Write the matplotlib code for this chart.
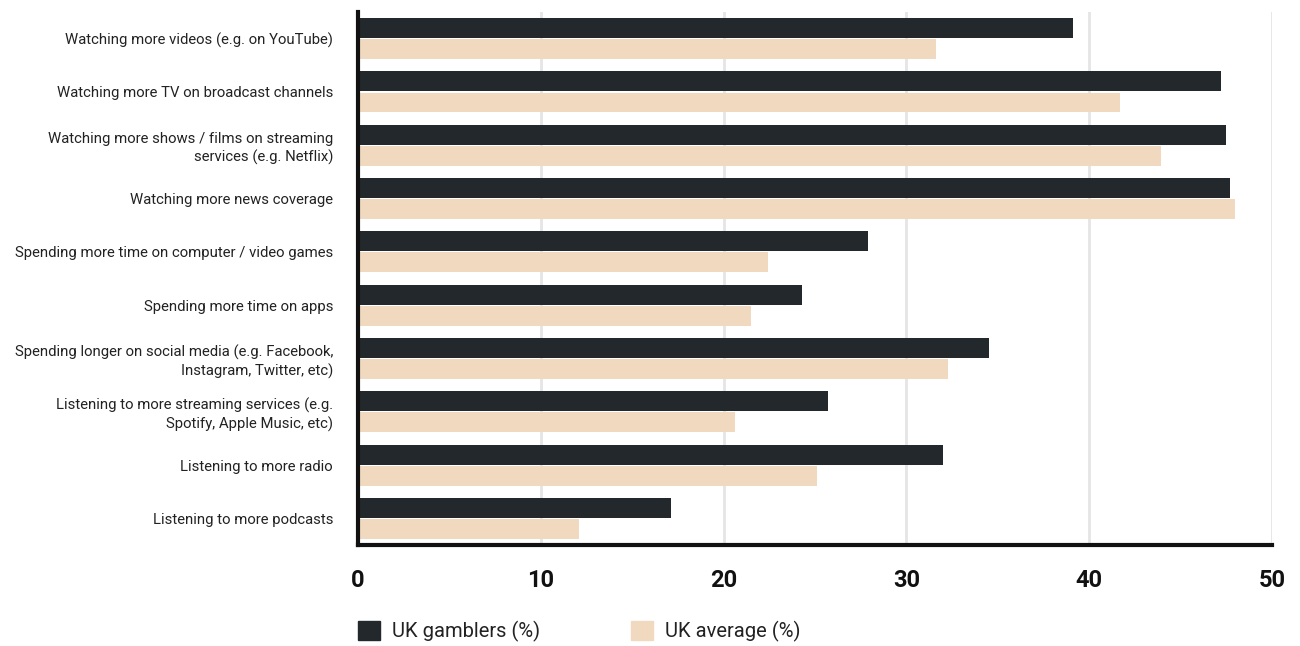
import matplotlib
matplotlib.use('Agg')
from matplotlib import pyplot as plt
from matplotlib.patches import Patch
import numpy as np

# data
categories = [
    'Watching more videos (e.g. on YouTube)',
    'Watching more TV on broadcast channels',
    'Watching more shows / films on streaming\nservices (e.g. Netflix)',
    'Watching more news coverage',
    'Spending more time on computer / video games',
    'Spending more time on apps',
    'Spending longer on social media (e.g. Facebook,\nInstagram, Twitter, etc)',
    'Listening to more streaming services (e.g.\nSpotify, Apple Music, etc)',
    'Listening to more radio',
    'Listening to more podcasts',
]
gamblers = [39.1, 47.2, 47.5, 47.7, 27.9, 24.3, 34.5, 25.7, 32.0, 17.1]
average = [31.6, 41.7, 43.9, 48.0, 22.4, 21.5, 32.3, 20.6, 25.1, 12.1]
xticks = [0, 10, 20, 30, 40, 50]
series_names = ['UK gamblers (%)', 'UK average (%)']

dark = '#23282c'
light = '#f0d9bf'

plt.rcParams['font.family'] = ['Roboto', 'DejaVu Sans']

if __name__ == '__main__':
    fig = plt.figure(figsize=(13, 6.46), dpi=100)
    ax = fig.add_axes([0.2754, 0.1563, 0.7031, 0.8251])

    y = np.arange(len(categories))
    h = 0.375
    ax.barh(y - h / 2 - 0.01, gamblers, height=h, color=dark, zorder=3)
    ax.barh(y + h / 2 + 0.01, average, height=h, color=light, zorder=3)

    ax.set_ylim(len(categories) - 0.5, -0.5)
    ax.set_xlim(0, 50)
    ax.set_yticks(y)
    ax.set_yticklabels(categories, fontsize=10.7, color='#222222', linespacing=1.3)
    ax.set_xticks(xticks)
    ax.set_xticklabels([str(t) for t in xticks], fontsize=17, fontweight='bold', color='#111111')
    ax.tick_params(axis='y', length=0, pad=18)
    ax.tick_params(axis='x', length=0, pad=17)

    ax.grid(axis='x', color='#e5e5e5', linewidth=2, zorder=0)
    for s in ['top', 'right']:
        ax.spines[s].set_visible(False)
    for s in ['left', 'bottom']:
        ax.spines[s].set_linewidth(3)
        ax.spines[s].set_color('#111111')
        ax.spines[s].set_zorder(4)

    handles = [Patch(color=dark), Patch(color=light)]
    fig.legend(handles, series_names, loc='center left', bbox_to_anchor=(0.2754, 0.023),
               ncol=2, frameon=False, fontsize=14.5, handlelength=1.1, handleheight=1.1,
               handletextpad=0.6, columnspacing=4.5, borderpad=0, borderaxespad=0,
               labelcolor='#222222')

    fig.savefig('out.png', dpi=100)
